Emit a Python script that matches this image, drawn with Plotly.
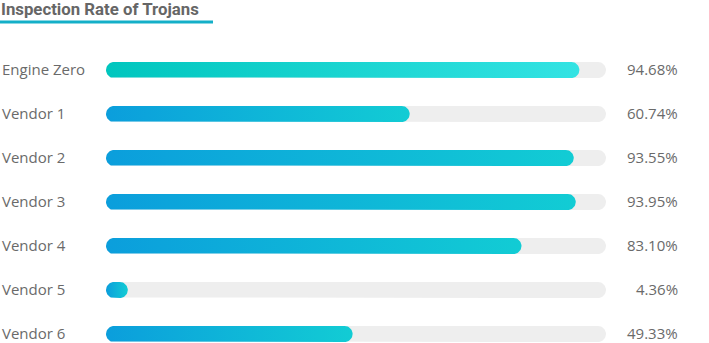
import plotly.graph_objects as go
import numpy as np

title_text = "Inspection Rate of Trojans"
vendors = ["Engine Zero", "Vendor 1", "Vendor 2", "Vendor 3", "Vendor 4", "Vendor 5", "Vendor 6"]
rates = [94.68, 60.74, 93.55, 93.95, 83.10, 4.36, 49.33]
max_rate = 100

W, H = 709, 343
x_left_px, x_right_px = 106, 606
row0_px, row_gap_px = 70, 44
bar_h_px = 16

px_per_x = (x_right_px - x_left_px) / max_rate
px_per_y = row_gap_px
r_x = (bar_h_px / 2) / px_per_x
r_y = (bar_h_px / 2) / px_per_y


def pill(x0, x1, yc):
    t = np.linspace(-np.pi / 2, np.pi / 2, 25)
    xr = (x1 - r_x) + r_x * np.cos(t)
    yr = yc + r_y * np.sin(t)
    tl = np.linspace(np.pi / 2, 3 * np.pi / 2, 25)
    xl = (x0 + r_x) + r_x * np.cos(tl)
    yl = yc + r_y * np.sin(tl)
    xs = np.concatenate([xr, xl, xr[:1]])
    ys = np.concatenate([yr, yl, yr[:1]])
    return xs, ys


fig = go.Figure()
for i, (name, v) in enumerate(zip(vendors, rates)):
    xs, ys = pill(0, max_rate, i)
    fig.add_trace(go.Scatter(x=xs, y=ys, fill="toself", fillcolor="#EEEEEE",
                             mode="lines", line=dict(width=0), hoverinfo="skip",
                             showlegend=False))
    xs, ys = pill(0, v, i)
    if i == 0:
        cs = [[0, "#00C6BE"], [1, "#33E3E3"]]
    else:
        cs = [[0, "#0B9EDC"], [1, "#12CCD4"]]
    fig.add_trace(go.Scatter(x=xs, y=ys, fill="toself",
                             fillgradient=dict(type="horizontal", colorscale=cs),
                             mode="lines", line=dict(width=0), hoverinfo="skip",
                             showlegend=False))

label_font = dict(family="Open Sans", size=15, color="#6A6A6A")
annotations = []
for i, (name, v) in enumerate(zip(vendors, rates)):
    annotations.append(dict(x=1 / W, xref="paper", y=i, yref="y", text=name,
                            xanchor="left", yanchor="middle", showarrow=False,
                            borderpad=0, yshift=1.5, font=label_font))
    annotations.append(dict(x=679 / W, xref="paper", y=i, yref="y", text=f"{v:.2f}%",
                            xanchor="right", yanchor="middle", showarrow=False,
                            borderpad=0, yshift=1.5, font=label_font))
annotations.append(dict(x=0, xref="paper", y=1 - 9 / H, yref="paper",
                        text="<b>" + title_text + "</b>", xanchor="left", yanchor="middle",
                        showarrow=False, borderpad=0,
                        font=dict(family="Roboto", size=16.8, color="#666666")))

y_top = -row0_px / px_per_y
y_bot = (H - row0_px) / px_per_y

fig.update_layout(
    width=W, height=H,
    margin=dict(l=0, r=0, t=0, b=0),
    paper_bgcolor="white", plot_bgcolor="white",
    xaxis=dict(range=[0, max_rate], domain=[x_left_px / W, x_right_px / W],
               visible=False, fixedrange=True),
    yaxis=dict(range=[y_bot, y_top], domain=[0, 1], visible=False, fixedrange=True),
    annotations=annotations,
    shapes=[dict(type="line", xref="paper", yref="paper", x0=0, x1=213 / W,
                 y0=1 - 22 / H, y1=1 - 22 / H,
                 line=dict(color="#14AFC8", width=3))],
)

fig.write_html("out.html")
